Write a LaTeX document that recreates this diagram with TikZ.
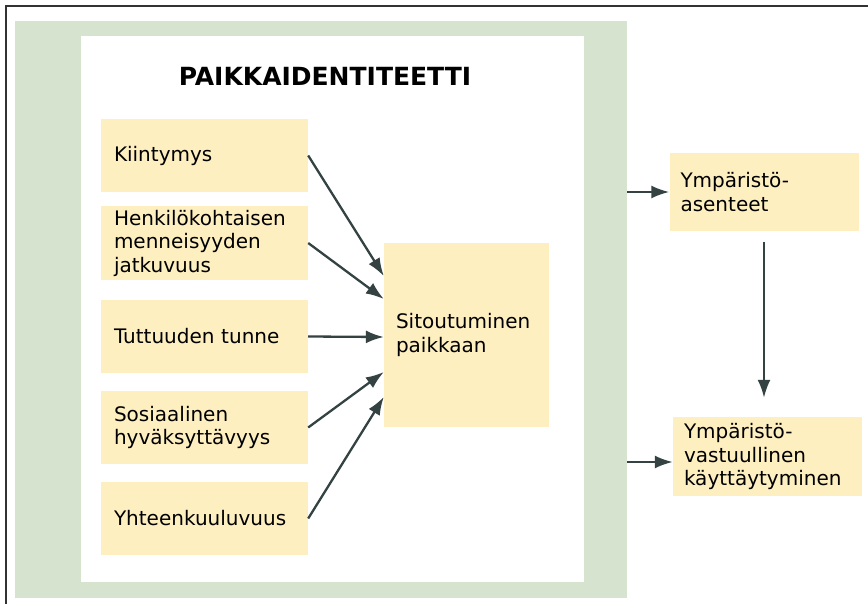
\documentclass[tikz,border=0pt]{standalone}
\usepackage{fontspec}
\setmainfont{DejaVu Sans}
\usepackage{tikz}
\usetikzlibrary{
  arrows.meta,
  positioning
}
\definecolor{BandGreen}{RGB}{213, 227, 207}
\definecolor{BoxYellow}{RGB}{253, 239, 192}
\definecolor{ArrowGray}{RGB}{52, 66, 66}
\definecolor{FrameGray}{RGB}{50, 50, 50}
\tikzset{
    factor/.style={rectangle, fill=BoxYellow, minimum width=207pt, minimum height=73pt,
        inner xsep=13pt, text width=181pt, align=left,
        font=\fontsize{20}{23.5}\selectfont},
    outcome/.style={factor, minimum width=189pt, minimum height=78pt,
        inner xsep=11pt, text width=167pt},
    link/.style={draw=ArrowGray, line width=2.3pt, -{Latex[length=18pt,width=13pt]}}
}

\begin{document}
\begin{tikzpicture}[x=1pt, y=-1pt]
    \useasboundingbox (0,0) rectangle (868,604);
    % frame, only top and left edges show
    \draw[FrameGray, line width=2pt] (868,6.5) -- (5.5,6.5) -- (5.5,604);
    \node[rectangle, fill=BandGreen, minimum width=612pt, minimum height=577pt, inner sep=0pt] (band) at (321,309.5) {};
    \node[rectangle, fill=white, minimum width=503pt, minimum height=546pt, inner sep=0pt] (inner) at (332.5,309) {};
    \node[anchor=base, font=\fontsize{25}{28}\selectfont\bfseries] (title) at (325,86) {PAIKKAIDENTITEETTI};

    % place identity factors
    \node[factor] (kiin) at (204.5,155.5) {Kiintymys};
    \node[factor] (henk) at (204.5,243) {Henkilökohtaisen\\menneisyyden\\jatkuvuus};
    \node[factor] (tutt) at (204.5,336.5) {Tuttuuden tunne};
    \node[factor] (sosi) at (204.5,427.5) {Sosiaalinen\\hyväksyttävyys};
    \node[factor] (yhte) at (204.5,518.5) {Yhteenkuuluvuus};
    \node[factor, minimum width=165pt, minimum height=184pt, inner xsep=12pt, text width=141pt] (sito) at (466.5,335) {Sitoutuminen\\paikkaan};

    \draw[link] (kiin.east) -- ([yshift=59pt]sito.west);
    \draw[link] (henk.east) -- ([yshift=36pt]sito.west);
    \draw[link] (tutt.east) -- ([yshift=-2pt]sito.west);
    \draw[link] (sosi.east) -- ([yshift=-37pt]sito.west);
    \draw[link] (yhte.east) -- ([yshift=-62pt]sito.west);

    % outcomes
    \node[outcome] (asen) at (764,192) {Ympäristö-\\asenteet};
    \node[outcome, minimum height=79pt] (kayt) at (767.5,456.5) {Ympäristö-\\vastuullinen\\käyttäytyminen};

    \draw[link] (band.east |- asen.west) -- (asen.west);
    \draw[link] (band.east |- 0,462) -- (kayt.west |- 0,462);
    \draw[link, shorten <=11pt, shorten >=19pt] (asen.south) -- (asen.south |- kayt.north);
\end{tikzpicture}
\end{document}
